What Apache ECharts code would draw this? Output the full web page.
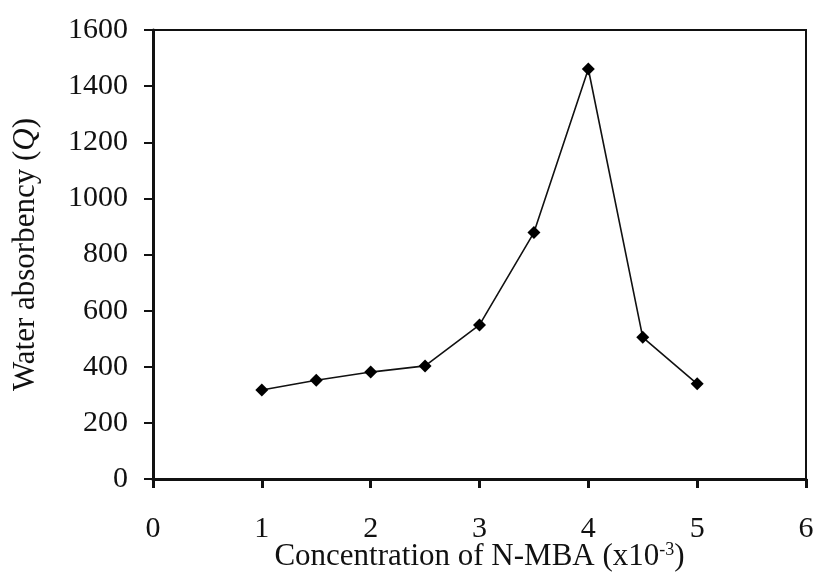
<!DOCTYPE html>
<html>
<head>
<meta charset="utf-8">
<script src="https://cdn.jsdelivr.net/npm/echarts@6/dist/echarts.min.js"></script>
<style>
  html, body { margin: 0; padding: 0; background: #fff; }
  #chart { width: 815px; height: 577px; }
</style>
</head>
<body>
<div id="chart"></div>
<script>
// N-MBA concentration (x10^-3) and water absorbency Q
const concentration = [1, 1.5, 2, 2.5, 3, 3.5, 4, 4.5, 5];
const absorbency = [317, 352, 381, 403, 549, 878, 1461, 505, 339];

const serif = '"Liberation Serif", "DejaVu Serif", serif';

document.addEventListener('DOMContentLoaded', () => {
    const chart = echarts.init(document.getElementById('chart'));

    const option = {
        animation: false,
        backgroundColor: '#fff',
        grid: {
            left: 153, right: 9, top: 30, bottom: 98,
            outerBoundsMode: 'none',
            show: true, borderColor: '#111', borderWidth: 2
        },
        xAxis: {
            type: 'value', min: 0, max: 6, interval: 1,
            name: 'Concentration of N-MBA (x10{sup|-3})',
            nameLocation: 'middle', nameGap: 62,
            nameMoveOverlap: false,
            nameTextStyle: {
                fontFamily: serif, fontSize: 31, color: '#111',
                rich: { sup: { fontFamily: serif, fontSize: 18, verticalAlign: 'top', padding: [0, 0, 14, 0], color: '#111' } }
            },
            axisLine: { lineStyle: { color: '#111', width: 3 } },
            axisTick: { length: 9, lineStyle: { color: '#111', width: 3 } },
            axisLabel: { margin: 35, fontFamily: serif, fontSize: 30, color: '#111' },
            splitLine: { show: false }
        },
        yAxis: {
            type: 'value', min: 0, max: 1600, interval: 200,
            name: 'Water absorbency ({q|Q})',
            nameLocation: 'middle', nameGap: 112,
            nameMoveOverlap: false,
            nameTextStyle: {
                fontFamily: serif, fontSize: 31, color: '#111',
                rich: { q: { fontFamily: serif, fontSize: 31, fontStyle: 'italic', color: '#111' } }
            },
            axisLine: { lineStyle: { color: '#111', width: 3 } },
            axisTick: { length: 9, lineStyle: { color: '#111', width: 2 } },
            axisLabel: {
                margin: 25, fontFamily: serif, fontSize: 30, color: '#111',
                formatter: (v) => String(v)
            },
            splitLine: { show: false }
        },
        series: [{
            type: 'line',
            data: concentration.map((c, i) => [c, absorbency[i]]),
            symbol: 'diamond',
            symbolSize: 13,
            itemStyle: { color: '#000' },
            lineStyle: { color: '#111', width: 1.6 }
        }]
    };
    chart.setOption(option);
});
</script>
</body>
</html>
